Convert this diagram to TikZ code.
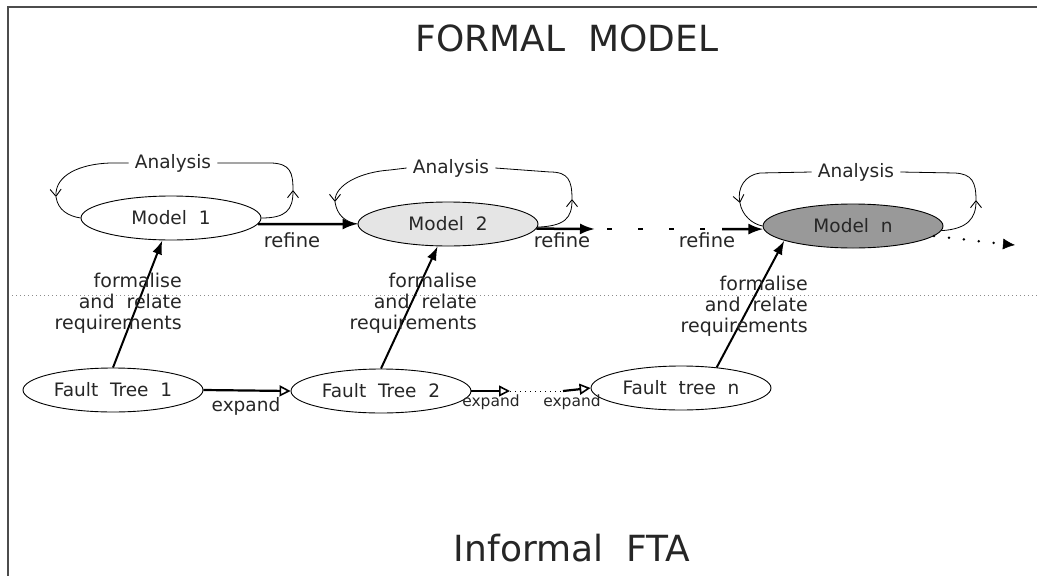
\documentclass[tikz,border=0pt]{standalone}
\usepackage{fontspec}
\setmainfont{DejaVu Sans}
\usetikzlibrary{shapes.geometric,arrows.meta}
\tikzset{
  ell/.style={draw, ellipse, line width=0.9pt, minimum width=180pt, minimum height=44pt, inner sep=0pt, font=\fontsize{18.5}{20}\selectfont, text=black!85},
  lbl/.style={inner sep=0pt, font=\fontsize{18.5}{20}\selectfont, text=black!85},
  slbl/.style={inner sep=0pt, font=\fontsize{15.5}{17}\selectfont, text=black!85},
  ftext/.style={inner sep=0pt, align=right, anchor=east, font=\fontsize{19}{21}\selectfont, text=black!85},
  title/.style={inner sep=0pt, font=\fontsize{36}{40}\selectfont, text=black!85},
  loopline/.style={line width=0.8pt},
  looptip/.style={loopline, -{Straight Barb[length=7pt,width=11pt,line width=0.9pt]}},
  thick arrow/.style={line width=2.5pt, -{Latex[length=15pt,width=11pt]}},
  exp arrow/.style={line width=2.2pt, -{Triangle[open,length=11pt,width=11pt,line width=1.6pt]}},
  form arrow/.style={line width=2pt, -{Latex[length=14pt,width=10pt]}},
}
\begin{document}
\begin{tikzpicture}[x=1pt,y=-1pt]
\useasboundingbox (0,0) rectangle (1037,576);
% frame
\draw[line width=2pt, black!70] (1037,7) -- (8,7) -- (8,576);
% separator
\draw[black!45, line width=0.8pt, dash pattern=on 1pt off 3pt] (12,295) -- (1037,295);
% titles
\node[title] (tf) at (567,38) {FORMAL\ \ MODEL};
\node[title] (ti) at (572,548) {Informal\ \ FTA};
% models
\node[ell] (m1) at (171,218) {Model\ \ 1};
\node[ell, fill=black!10] (m2) at (448,224) {Model\ \ 2};
\node[ell, fill=black!40] (mn) at (853,226) {Model\ \ n};
% fault trees
\node[ell] (f1) at (113,390) {Fault\ \ Tree\ \ 1};
\node[ell] (f2) at (381,391) {Fault\ \ Tree\ \ 2};
\node[ell] (fn) at (681,388) {Fault\ \ tree\ \ n};
% analysis labels
\node[lbl] (a1) at (173,163) {Analysis};
\node[lbl] (a2) at (451,168) {Analysis};
\node[lbl] (an) at (856,172) {Analysis};
% analysis loops
\coordinate (r1) at (293,190); \coordinate (l1) at (56,197);
\draw[looptip] (m1.east) .. controls (286,218) and (293,210) .. (r1);
\draw[loopline] (r1) .. controls (293,172) and (290,164) .. (272,163) -- ([xshift=6pt]a1.east);
\draw[looptip] ([xshift=-6pt]a1.west) -- (110,163) .. controls (80,164) and (55,175) .. (l1);
\draw[loopline] (l1) .. controls (58,210) and (68,216) .. (m1.west);
\coordinate (r2) at (572,199); \coordinate (l2) at (335,202);
\draw[looptip] (m2.-2) .. controls (565,226) and (572,218) .. (r2);
\draw[loopline] (r2) .. controls (572,180) and (568,172) .. (550,172) -- ([xshift=6pt]a2.east);
\draw[looptip] ([xshift=-6pt]a2.west) -- (390,170) .. controls (360,172) and (335,185) .. (l2);
\draw[loopline] (l2) .. controls (337,215) and (345,222) .. (m2.west);
\coordinate (r3) at (976,200); \coordinate (l3) at (740,203);
\draw[looptip] (mn.-3) .. controls (968,229) and (976,218) .. (r3);
\draw[loopline] (r3) .. controls (976,182) and (972,174) .. (955,173) -- ([xshift=6pt]an.east);
\draw[looptip] ([xshift=-6pt]an.west) -- (760,173) .. controls (745,175) and (737,188) .. (l3);
\draw[loopline] (l3) .. controls (742,215) and (752,224) .. (mn.west);
% refine
\draw[thick arrow] (m1.-4) -- (m2.west);
\node[lbl, font=\fontsize{19.5}{21}\selectfont] (rf1) at (292,240) {refine};
\coordinate (c0) at (595,229); \coordinate (c2) at (722,229);
\draw[thick arrow] (m2.-3) -- (c0);
\draw[line width=2.5pt, dash pattern=on 5pt off 26pt, dash phase=19pt] (c0) -- (c2);
\draw[thick arrow] (c2) -- (mn.182);
\node[lbl, font=\fontsize{19.5}{21}\selectfont] (rf2) at (562,240) {refine};
\node[lbl, font=\fontsize{19.5}{21}\selectfont] (rf3) at (707,240) {refine};
% trailing dots
\coordinate (d1) at (1003,244); \coordinate (d2) at (1015,245);
\draw[line width=2.8pt, line cap=round, dash pattern=on 0pt off 15pt] (mn.-7) -- (d1);
\draw[line width=0.5pt, -{Latex[length=12pt,width=11pt]}] (d1) -- (d2);
% formalise arrows
\draw[form arrow] (f1.north) -- (m1);
\draw[form arrow] (f2.north) -- (m2);
\draw[form arrow] (fn.30) -- (mn.192);
\node[ftext] (t1) at (182,303) {formalise\\and\ \ relate\\requirements};
\node[ftext] (t2) at (477,303) {formalise\\and\ \ relate\\requirements};
\node[ftext] (tn) at (808,306) {formalise\\and\ \ relate\\requirements};
% expand
\draw[exp arrow] (f1.east) -- (f2.west);
\coordinate (x1) at (510,391); \coordinate (x2) at (563,391);
\draw[exp arrow] (f2.east) -- (x1);
\draw[line width=0.7pt, dash pattern=on 1pt off 4pt] (x1) -- (x2);
\draw[exp arrow] (x2) -- (fn.west);
\node[lbl] (e1) at (246,406) {expand};
\node[slbl] (e2) at (491,402) {expand};
\node[slbl] (e3) at (572,402) {expand};
\end{tikzpicture}
\end{document}
